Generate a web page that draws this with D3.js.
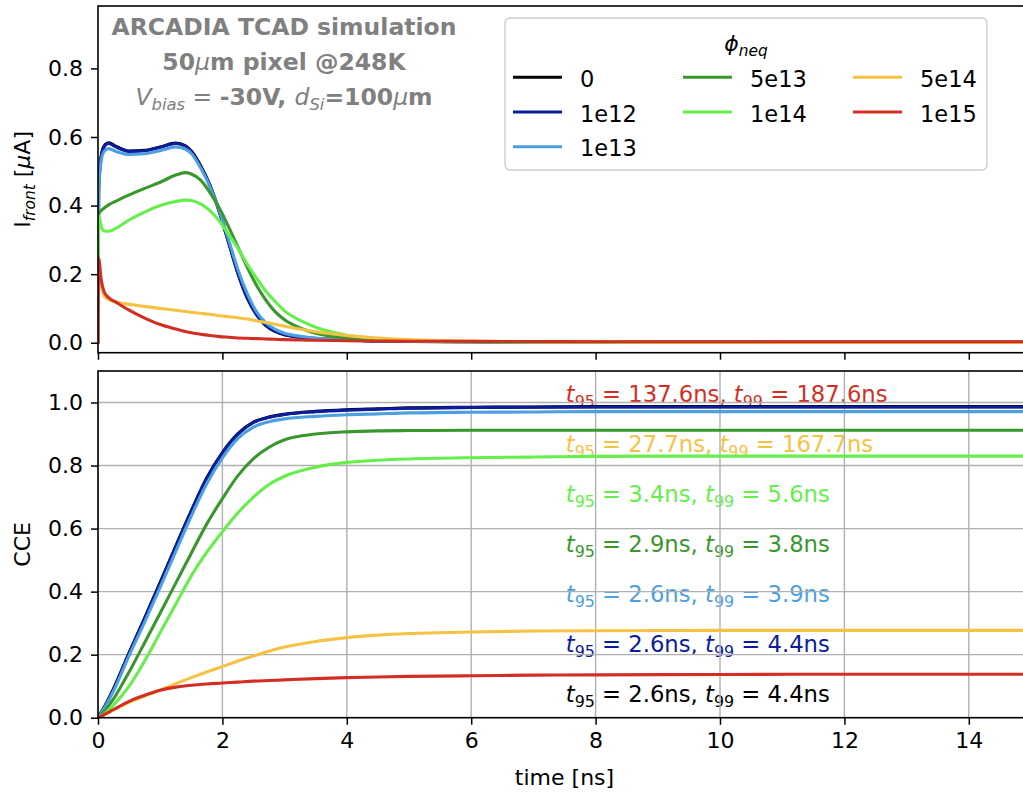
<!DOCTYPE html>
<html>
<head>
<meta charset="utf-8">
<script src="https://cdn.jsdelivr.net/npm/d3@7"></script>
<style>
  html, body { margin: 0; padding: 0; background: #fff; }
  svg { display: block; font-family: "DejaVu Sans", sans-serif; }
</style>
</head>
<body>
<svg id="chart" width="1023" height="794"></svg>
<script>
// ---------------- DATA ----------------
const seriesNames = ["0", "1e12", "1e13", "5e13", "1e14", "5e14", "1e15"];
const seriesColors = ["#000000", "#0b1c9c", "#4c9fe1", "#3a972e", "#66ef4b", "#f6c244", "#d22f24"];

// Top panel: front current [uA] vs time [ns]
const timeI = [0, 0.01, 0.05, 0.1, 0.17, 0.3, 0.5, 0.75, 1.0, 1.25, 1.4, 1.5, 1.65, 1.8, 1.95, 2.1, 2.25, 2.4, 2.55, 2.7, 2.85, 3.0, 3.25, 3.5, 4.0, 4.5, 5.0, 6.0, 7.0, 8.0, 10, 12, 15];
const current_0    = [0, 0.452, 0.543, 0.574, 0.583, 0.572, 0.559, 0.561, 0.571, 0.582, 0.575, 0.559, 0.516, 0.459, 0.383, 0.293, 0.203, 0.131, 0.082, 0.050, 0.033, 0.023, 0.016, 0.012, 0.008, 0.005, 0.004, 0.003, 0.002, 0.0015, 0.001, 0.001, 0.001];
const current_1e12 = [0, 0.450, 0.540, 0.572, 0.581, 0.570, 0.558, 0.560, 0.570, 0.581, 0.574, 0.558, 0.515, 0.458, 0.382, 0.292, 0.202, 0.130, 0.081, 0.050, 0.033, 0.023, 0.016, 0.012, 0.008, 0.005, 0.004, 0.003, 0.002, 0.0015, 0.001, 0.001, 0.001];
const current_1e13 = [0, 0.430, 0.530, 0.558, 0.566, 0.557, 0.549, 0.551, 0.560, 0.571, 0.565, 0.552, 0.510, 0.455, 0.385, 0.300, 0.213, 0.143, 0.090, 0.058, 0.039, 0.028, 0.019, 0.014, 0.009, 0.006, 0.005, 0.003, 0.002, 0.0015, 0.001, 0.001, 0.001];
const current_5e13 = [0, 0.375, 0.385, 0.393, 0.402, 0.414, 0.431, 0.450, 0.468, 0.489, 0.496, 0.492, 0.474, 0.438, 0.393, 0.338, 0.279, 0.220, 0.167, 0.124, 0.090, 0.067, 0.043, 0.028, 0.014, 0.008, 0.005, 0.003, 0.002, 0.0015, 0.001, 0.001, 0.001];
const current_1e14 = [0, 0.370, 0.340, 0.326, 0.325, 0.335, 0.358, 0.381, 0.400, 0.412, 0.416, 0.415, 0.405, 0.385, 0.355, 0.316, 0.275, 0.229, 0.188, 0.150, 0.120, 0.093, 0.065, 0.045, 0.022, 0.012, 0.007, 0.003, 0.002, 0.0015, 0.001, 0.001, 0.001];
const current_5e14 = [0, 0.200, 0.165, 0.138, 0.126, 0.118, 0.112, 0.106, 0.100, 0.095, 0.091, 0.089, 0.086, 0.083, 0.079, 0.076, 0.073, 0.069, 0.064, 0.059, 0.054, 0.048, 0.040, 0.032, 0.021, 0.014, 0.009, 0.005, 0.003, 0.002, 0.0015, 0.001, 0.001];
const current_1e15 = [0, 0.246, 0.185, 0.148, 0.132, 0.117, 0.095, 0.072, 0.053, 0.040, 0.033, 0.029, 0.025, 0.021, 0.018, 0.016, 0.014, 0.013, 0.012, 0.011, 0.010, 0.009, 0.008, 0.0075, 0.006, 0.005, 0.0045, 0.004, 0.0035, 0.003, 0.003, 0.003, 0.003];

// Bottom panel: charge collection efficiency vs time [ns]
const timeC = [0, 0.1, 0.25, 0.5, 0.75, 1.0, 1.25, 1.5, 1.75, 2.0, 2.25, 2.5, 2.75, 3.0, 3.5, 4.0, 4.5, 5, 6, 7, 8, 10, 12, 15];
const cce_0    = [0, 0.033, 0.092, 0.206, 0.316, 0.429, 0.544, 0.656, 0.761, 0.841, 0.901, 0.938, 0.954, 0.963, 0.972, 0.977, 0.980, 0.983, 0.985, 0.986, 0.987, 0.987, 0.987, 0.987];
const cce_1e12 = [0, 0.032, 0.090, 0.205, 0.315, 0.428, 0.543, 0.655, 0.760, 0.840, 0.900, 0.937, 0.953, 0.962, 0.971, 0.976, 0.979, 0.982, 0.984, 0.985, 0.986, 0.986, 0.986, 0.986];
const cce_1e13 = [0, 0.030, 0.085, 0.197, 0.303, 0.414, 0.528, 0.640, 0.743, 0.824, 0.886, 0.922, 0.939, 0.948, 0.956, 0.961, 0.964, 0.967, 0.969, 0.970, 0.971, 0.971, 0.971, 0.971];
const cce_5e13 = [0, 0.020, 0.060, 0.145, 0.238, 0.332, 0.427, 0.522, 0.615, 0.695, 0.768, 0.822, 0.858, 0.882, 0.900, 0.907, 0.910, 0.911, 0.912, 0.912, 0.912, 0.912, 0.912, 0.912];
const cce_1e14 = [0, 0.012, 0.040, 0.100, 0.180, 0.270, 0.360, 0.450, 0.525, 0.590, 0.650, 0.700, 0.740, 0.766, 0.795, 0.810, 0.817, 0.821, 0.825, 0.827, 0.829, 0.830, 0.830, 0.830];
const cce_5e14 = [0, 0.009, 0.024, 0.049, 0.069, 0.088, 0.108, 0.127, 0.145, 0.162, 0.180, 0.196, 0.211, 0.224, 0.242, 0.254, 0.262, 0.267, 0.272, 0.275, 0.276, 0.277, 0.277, 0.277];
const cce_1e15 = [0, 0.010, 0.026, 0.052, 0.071, 0.087, 0.097, 0.103, 0.107, 0.110, 0.113, 0.116, 0.118, 0.120, 0.124, 0.127, 0.129, 0.131, 0.133, 0.135, 0.136, 0.137, 0.138, 0.138];

const currents = [current_0, current_1e12, current_1e13, current_5e13, current_1e14, current_5e14, current_1e15];
const cces = [cce_0, cce_1e12, cce_1e13, cce_5e13, cce_1e14, cce_5e14, cce_1e15];

// Collection-time annotations (per series)
const t95 = ["2.6", "2.6", "2.6", "2.9", "3.4", "27.7", "137.6"];
const t99 = ["4.4", "4.4", "3.9", "3.8", "5.6", "167.7", "187.6"];

const xTicks = [0, 2, 4, 6, 8, 10, 12, 14];
const yTicksI = [0.0, 0.2, 0.4, 0.6, 0.8];
const yTicksC = [0.0, 0.2, 0.4, 0.6, 0.8, 1.0];

// ---------------- LAYOUT ----------------
const svg = d3.select("#chart");
const FONT = "DejaVu Sans";
const LW = 3.1;
const left = 98, right = 1031;
const topI = 6, botI = 352.7;
const topC = 371, botC = 717.7;

const x = d3.scaleLinear().domain([0, 15]).range([left, right]);
const yI = d3.scaleLinear().domain([-0.029, 0.982]).range([botI, topI]);
const yC = d3.scaleLinear().domain([0, 1.1]).range([botC, topC]);

svg.append("rect").attr("width", 1023).attr("height", 794).attr("fill", "#fff");

const defs = svg.append("defs");
defs.append("clipPath").attr("id", "clipI").append("rect")
  .attr("x", left).attr("y", topI).attr("width", right - left).attr("height", botI - topI);
defs.append("clipPath").attr("id", "clipC").append("rect")
  .attr("x", left).attr("y", topC).attr("width", right - left).attr("height", botC - topC);

// rich text helper: parts = [{t, italic, bold, sub}]
function richText(parent, px, py, parts, opts) {
  const txt = parent.append("text")
    .attr("x", px).attr("y", py)
    .attr("font-family", FONT)
    .attr("font-size", opts.size)
    .attr("fill", opts.color)
    .attr("text-anchor", opts.anchor || "start")
    .attr("xml:space", "preserve");
  let offset = 0;
  parts.forEach(p => {
    const ts = txt.append("tspan").text(p.t);
    const target = p.sub ? opts.size * 0.24 : 0;
    if (target !== offset) { ts.attr("dy", target - offset); offset = target; }
    if (p.sub) ts.attr("font-size", opts.size * 0.7);
    ts.attr("font-style", p.italic ? "italic" : "normal");
    ts.attr("font-weight", p.bold ? "bold" : "normal");
  });
  return txt;
}

const lineI = d3.line().x((d, i) => x(timeI[i])).y(d => yI(d)).curve(d3.curveMonotoneX);
const lineC = d3.line().x((d, i) => x(timeC[i])).y(d => yC(d)).curve(d3.curveMonotoneX);

// ---------------- TOP PANEL ----------------
const gI = svg.append("g");
gI.append("g").attr("clip-path", "url(#clipI)")
  .selectAll("path").data(currents).join("path")
  .attr("d", d => lineI(d))
  .attr("fill", "none")
  .attr("stroke", (d, i) => seriesColors[i])
  .attr("stroke-width", LW)
  .attr("stroke-linejoin", "round")
  .attr("stroke-linecap", "round");

const axI = d3.axisLeft(yI).tickValues(yTicksI).tickFormat(d3.format(".1f")).tickSize(7).tickPadding(8);
const gAxI = gI.append("g").attr("transform", `translate(${left},0)`).call(axI);
const axIb = d3.axisBottom(x).tickValues(xTicks).tickFormat("").tickSize(7);
const gAxIb = gI.append("g").attr("transform", `translate(0,${botI})`).call(axIb);
[gAxI, gAxIb].forEach(g => {
  g.select(".domain").remove();
  g.selectAll(".tick line").attr("stroke", "#000").attr("stroke-width", 1.5);
  g.selectAll(".tick text").attr("font-family", FONT).attr("font-size", 22).attr("fill", "#000");
});
gI.append("rect").attr("x", left).attr("y", topI).attr("width", right - left).attr("height", botI - topI)
  .attr("fill", "none").attr("stroke", "#000").attr("stroke-width", 1.6);

richText(gI.append("g").attr("transform", `translate(30,${(topI + botI) / 2}) rotate(-90)`), 0, 0,
  [{t: "I"}, {t: "front", italic: true, sub: true}, {t: " ["}, {t: "μ", italic: true}, {t: "A]"}],
  {size: 22, color: "#000", anchor: "middle"});

// gray annotation
const annCx = 284, gray = "#808080";
richText(gI, annCx, 34.5, [{t: "ARCADIA TCAD simulation", bold: true}], {size: 23.5, color: gray, anchor: "middle"});
richText(gI, annCx, 69.5, [{t: "50", bold: true}, {t: "μ", italic: true}, {t: "m pixel @248K", bold: true}], {size: 23.5, color: gray, anchor: "middle"});
richText(gI, annCx, 104.5, [
  {t: "V", italic: true}, {t: "bias", italic: true, sub: true}, {t: " = "},
  {t: "-30V, ", bold: true}, {t: "d", italic: true}, {t: "Si", italic: true, sub: true},
  {t: "=100", bold: true}, {t: "μ", italic: true}, {t: "m", bold: true}
], {size: 23.5, color: gray, anchor: "middle"});

// legend
const leg = svg.append("g");
leg.append("rect").attr("x", 505).attr("y", 18).attr("width", 482).attr("height", 152).attr("rx", 5)
  .attr("fill", "#fff").attr("fill-opacity", 0.8).attr("stroke", "#cccccc").attr("stroke-width", 1.3);
richText(leg, 746, 51, [{t: "ϕ", italic: true}, {t: "neq", italic: true, sub: true}], {size: 22, color: "#000", anchor: "middle"});
const legCols = [513, 683, 853];
const legRows = [77.3, 112, 146.7];
const legPos = [[0, 0], [0, 1], [0, 2], [1, 0], [1, 1], [2, 0], [2, 1]];
seriesNames.forEach((name, i) => {
  const [c, r] = legPos[i];
  const lx = legCols[c], ly = legRows[r];
  leg.append("line").attr("x1", lx).attr("x2", lx + 49).attr("y1", ly).attr("y2", ly)
    .attr("stroke", seriesColors[i]).attr("stroke-width", LW);
  leg.append("text").attr("x", lx + 67).attr("y", ly + 9.5)
    .attr("font-family", FONT).attr("font-size", 22.5).attr("fill", "#000").text(name);
});

// ---------------- BOTTOM PANEL ----------------
const gC = svg.append("g");

const annOrder = [6, 5, 4, 3, 2, 1, 0];
annOrder.forEach((si, k) => {
  richText(gC, x(7.52), botC - 16 - (6 - k) * 50, [
    {t: "t", italic: true}, {t: "95", sub: true}, {t: " = " + t95[si] + "ns, "},
    {t: "t", italic: true}, {t: "99", sub: true}, {t: " = " + t99[si] + "ns"}
  ], {size: 22.7, color: seriesColors[si]});
});

const grid = gC.append("g").attr("clip-path", "url(#clipC)");
grid.selectAll("line.gx").data(xTicks).join("line").attr("class", "gx")
  .attr("x1", d => x(d)).attr("x2", d => x(d)).attr("y1", topC).attr("y2", botC)
  .attr("stroke", "#b0b0b0").attr("stroke-width", 1.4);
grid.selectAll("line.gy").data(yTicksC).join("line").attr("class", "gy")
  .attr("x1", left).attr("x2", right).attr("y1", d => yC(d)).attr("y2", d => yC(d))
  .attr("stroke", "#b0b0b0").attr("stroke-width", 1.4);

gC.append("g").attr("clip-path", "url(#clipC)")
  .selectAll("path").data(cces).join("path")
  .attr("d", d => lineC(d))
  .attr("fill", "none")
  .attr("stroke", (d, i) => seriesColors[i])
  .attr("stroke-width", LW)
  .attr("stroke-linejoin", "round")
  .attr("stroke-linecap", "round");

const axC = d3.axisLeft(yC).tickValues(yTicksC).tickFormat(d3.format(".1f")).tickSize(7).tickPadding(8);
const gAxC = gC.append("g").attr("transform", `translate(${left},0)`).call(axC);
const axCb = d3.axisBottom(x).tickValues(xTicks).tickFormat(d3.format("d")).tickSize(7).tickPadding(8);
const gAxCb = gC.append("g").attr("transform", `translate(0,${botC})`).call(axCb);
[gAxC, gAxCb].forEach(g => {
  g.select(".domain").remove();
  g.selectAll(".tick line").attr("stroke", "#000").attr("stroke-width", 1.5);
  g.selectAll(".tick text").attr("font-family", FONT).attr("font-size", 22).attr("fill", "#000");
});
gC.append("rect").attr("x", left).attr("y", topC).attr("width", right - left).attr("height", botC - topC)
  .attr("fill", "none").attr("stroke", "#000").attr("stroke-width", 1.6);

richText(gC.append("g").attr("transform", `translate(30,${(topC + botC) / 2}) rotate(-90)`), 0, 0,
  [{t: "CCE"}], {size: 22, color: "#000", anchor: "middle"});
richText(gC, (left + right) / 2, 785, [{t: "time [ns]"}], {size: 22, color: "#000", anchor: "middle"});
</script>
</body>
</html>
